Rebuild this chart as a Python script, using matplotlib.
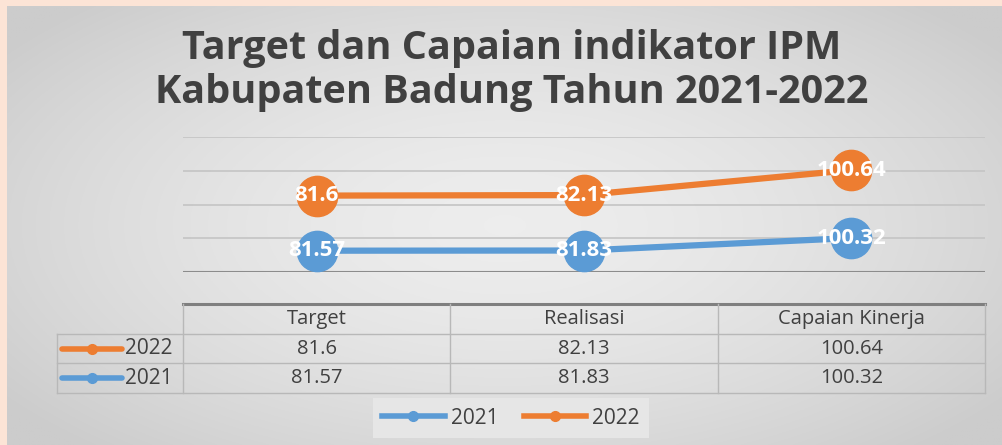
import numpy as np
import matplotlib
matplotlib.use("Agg")
import matplotlib.pyplot as plt
from matplotlib.lines import Line2D

# ---- data ----
categories = ["Target", "Realisasi", "Capaian Kinerja"]
series_names = ["2021", "2022"]
values_2021 = [81.57, 81.83, 100.32]
values_2022 = [81.6, 82.13, 100.64]
title = "Target dan Capaian indikator IPM\nKabupaten Badung Tahun 2021-2022"

C21 = "#5B9BD5"
C22 = "#ED7D31"
TXT = "#404040"

plt.rcParams['font.family'] = ['Open Sans', 'DejaVu Sans']

W, H = 1003, 445
fig = plt.figure(figsize=(W / 100, H / 100), dpi=100)
fig.patch.set_facecolor("#FCE4D6")

def fx(px):
    return px / W

def fy(py):
    return 1 - py / H

# gray panel with radial gradient
bg = fig.add_axes([fx(7), 0, 1 - fx(7), fy(6)])
yy, xx = np.mgrid[-1:1:300j, -1:1:600j]
r = np.sqrt((xx / 1.0) ** 2 + (yy / 1.1) ** 2)
grad = 0.93 - 0.13 * np.clip(r / 1.25, 0, 1) ** 1.6
bg.imshow(np.dstack([grad] * 3), aspect="auto", extent=[0, 1, 0, 1], zorder=0)
bg.set_axis_off()

fig.text(fx(512), fy(49), title.split("\n")[0], ha="center", va="center", fontsize=28.5,
         fontweight="bold", color=TXT)
fig.text(fx(512), fy(92), title.split("\n")[1], ha="center", va="center", fontsize=28.5,
         fontweight="bold", color=TXT)

# main plot
x = np.arange(len(categories))
stack_2021 = np.array(values_2021)
stack_2022 = stack_2021 + np.array(values_2022)

ax = fig.add_axes([fx(183), fy(272), fx(985) - fx(183), fy(137) - fy(272)])
ax.set_facecolor("none")
ax.set_xlim(-0.5, 2.5)
ax.set_ylim(50, 250)
for gy in [100, 150, 200, 250]:
    ax.axhline(gy, color="#C4C4C4", lw=1.2, zorder=1)
ax.axhline(50, color="#8C8C8C", lw=1.5, zorder=1)
for s in ax.spines.values():
    s.set_visible(False)
ax.set_xticks([])
ax.set_yticks([])

for ys, vals, c in [(stack_2021, values_2021, C21), (stack_2022, values_2022, C22)]:
    ax.plot(x, ys, color=c, lw=4.5, marker="o", ms=29, mec=c, mfc=c, zorder=3,
            solid_capstyle="round")
    for xi, yi, v in zip(x, ys, vals):
        ax.text(xi, yi, f"{v:g}", ha="center", va="center", color="white",
                fontsize=16, fontweight="bold", zorder=4)

# data table
left_px = 57
col_w = (985 - 183) / 3
x_left = -0.5 - (183 - left_px) / col_w
tax = fig.add_axes([fx(left_px), fy(393), fx(985) - fx(left_px), fy(304) - fy(393)])
tax.set_facecolor("none")
tax.set_xlim(x_left, 2.5)
tax.set_ylim(3, 0)
tax.set_axis_off()
LC = "#B8B8B8"
tax.plot([-0.5, 2.5], [0, 0], color="#7F7F7F", lw=2.2, clip_on=False)
tax.plot([x_left, 2.5], [1, 1], color=LC, lw=1, clip_on=False)
tax.plot([x_left, 2.5], [2, 2], color=LC, lw=1, clip_on=False)
tax.plot([x_left, 2.5], [3, 3], color=LC, lw=1, clip_on=False)
tax.plot([x_left, x_left], [1, 3], color=LC, lw=1, clip_on=False)
for xv in [-0.5, 0.5, 1.5, 2.5]:
    tax.plot([xv, xv], [0, 3], color=LC, lw=1, clip_on=False)
for xi, cat in zip(x, categories):
    tax.text(xi, 0.52, cat, ha="center", va="center", fontsize=14.5, color=TXT)
rows = [("2022", values_2022, C22), ("2021", values_2021, C21)]
for ri, (name, vals, c) in enumerate(rows):
    yr = ri + 1.5
    for xi, v in zip(x, vals):
        tax.text(xi, yr, f"{v:g}", ha="center", va="center", fontsize=14.5, color=TXT)
    kx0 = x_left + 0.02
    kx1 = x_left + 0.245
    tax.plot([kx0, kx1], [yr, yr], color=c, lw=4, solid_capstyle="round")
    tax.plot([(kx0 + kx1) / 2], [yr], marker="o", ms=7, color=c)
    tax.text(x_left + 0.255, yr, name, ha="left", va="center", fontsize=15, color=TXT)

# bottom legend
handles = [Line2D([], [], color=C21, lw=4, marker="o", ms=7),
           Line2D([], [], color=C22, lw=4, marker="o", ms=7)]
leg = fig.legend(handles, series_names, loc="center", bbox_to_anchor=(fx(511), fy(418)),
                 ncol=2, frameon=True, fontsize=15, handlelength=3.0, columnspacing=1.2,
                 handletextpad=0.3, borderpad=0.45)
leg.get_frame().set_facecolor("#E6E6E6")
leg.get_frame().set_edgecolor("none")
leg.get_frame().set_alpha(1)
leg.get_frame().set_boxstyle("square", pad=0)
for t in leg.get_texts():
    t.set_color(TXT)

fig.savefig("out.png", dpi=100, facecolor=fig.get_facecolor())
